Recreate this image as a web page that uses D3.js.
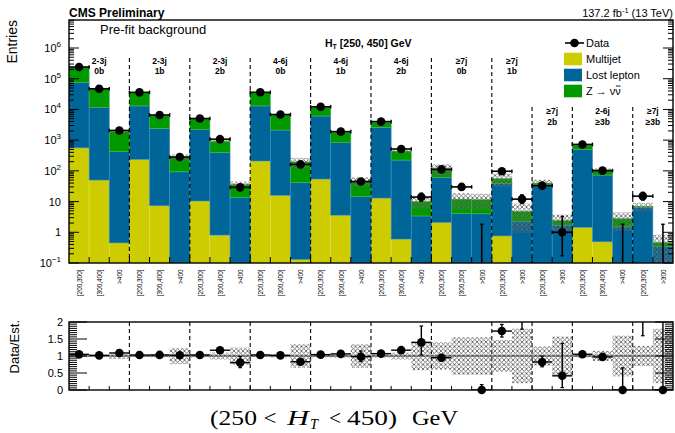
<!DOCTYPE html>
<html>
<head>
<meta charset="utf-8">
<script src="https://cdn.jsdelivr.net/npm/d3@7"></script>
<style>
  body { margin: 0; background: #fff; }
  svg { display: block; }
  text { font-family: "Liberation Sans", Arial, Helvetica, sans-serif; fill: #000; }
</style>
</head>
<body>
<svg id="chart" width="675" height="433"></svg>
<script>
// ---- Search-region bins (H_T 250-450 GeV), binned in MT2 within each (Nj, Nb) group ----
const binLabels = [
  "[200,300]", "[300,400]", ">400",
  "[200,300]", "[300,400]", ">400",
  "[200,300]", "[300,400]", ">400",
  "[200,300]", "[300,400]", ">400",
  "[200,300]", "[300,400]", ">400",
  "[200,300]", "[300,400]", ">400",
  "[200,300]", "[300,500]", ">500",
  "[200,300]", ">300",
  "[200,300]", ">300",
  "[200,300]", "[300,400]", ">400",
  "[200,300]", ">300"
];
const groupJets  = ["2-3j", "2-3j", "2-3j", "4-6j", "4-6j", "4-6j", "≥7j", "≥7j", "≥7j", "2-6j", "≥7j"];
const groupBtags = ["0b", "1b", "2b", "0b", "1b", "2b", "0b", "1b", "2b", "≥3b", "≥3b"];
const groupSizes = [3, 3, 3, 3, 3, 3, 3, 2, 2, 3, 2];
const groupLowRow = [false, false, false, false, false, false, false, false, true, true, true];

// Pre-fit background estimates (stacked: multijet, lost lepton, Z -> nu nu)
const multijet = [560, 50, 0.45, 236, 7.3, 0, 10.4, 0.81, 0, 209, 16, 0.13, 54, 3.6, 0,
                  13, 0.6, 0, 2.1, 0, 0, 0.76, 0, 0, 0, 1.45, 0.49, 0, 0, 0];
const lostLepton = [75400, 11650, 420, 12760, 2390, 93, 2240, 399, 13.7, 12790, 2114, 40.9, 6046, 826, 14.4,
                    2587, 224, 3.4, 59.9, 4.1, 4.0, 38.2, 2.2, 35, 1.7, 498, 72.5, 1.5, 6.4, 0.35];
const zinv = [154000, 34300, 1480, 22000, 4000, 182, 2650, 520, 22.3, 22000, 4570, 154, 5600, 950, 31.6,
              1150, 215, 6.6, 56, 7.9, 7.5, 17, 2.6, 5, 0.7, 190, 32, 1.3, 0.6, 0.11];
// Relative uncertainty on the total estimate
const relUnc = [0.03, 0.03, 0.09, 0.03, 0.04, 0.24, 0.04, 0.10, 0.25, 0.03, 0.05, 0.35, 0.04, 0.05, 0.35,
                0.05, 0.10, 0.42, 0.40, 0.55, 0.55, 0.47, 0.80, 0.28, 0.57, 0.04, 0.15, 0.60, 0.30, 0.80];
// Observed event counts
const observed = [241000, 46900, 2070, 36000, 6600, 281, 5050, 1076, 29, 36100, 6830, 162, 12170, 1890, 45,
                  4010, 515, 14, 112, 30, 0, 97, 12, 33, 1, 725, 102, 0, 15, 0];

const yExponents = [-1, 0, 1, 2, 3, 4, 5, 6];
const ratioTicks = [0, 0.5, 1, 1.5, 2];
const legendItems = [
  { key: "data", label: "Data" },
  { key: "mj", label: "Multijet", color: "#cccc00" },
  { key: "ll", label: "Lost lepton", color: "#00669a" },
  { key: "zn", label: "Z → νν", color: "#009900" }
];

// ---- Geometry ----
const L = 69, R = 673, T = 20, B = 263;       // main pad frame
const RT = 322, RB = 390;                      // ratio pad frame
const decade = (B - 48) / 7;
const nb = observed.length;

const svg = d3.select("#chart");
const x = d3.scaleLinear().domain([0, nb]).range([L, R]);
const yMax = Math.pow(10, -1 + (B - T) / decade);
const y = d3.scaleLog().domain([0.1, yMax]).range([B, T]);
const yr = d3.scaleLinear().domain([0, 2]).range([RB, RT]);

// Poisson (Garwood-like) 68% interval
function poisErr(n) {
  const lo = n > 0 ? n * Math.pow(1 - 1 / (9 * n) - 1 / (3 * Math.sqrt(n)), 3) : 0;
  const m = n + 1;
  const hi = m * Math.pow(1 - 1 / (9 * m) + 1 / (3 * Math.sqrt(m)), 3);
  return [lo, hi];
}

const defs = svg.append("defs");
const pat = defs.append("pattern").attr("id", "hatch").attr("patternUnits", "userSpaceOnUse")
  .attr("width", 4.5).attr("height", 4.5);
pat.append("path").attr("d", "M0,0 L4.5,4.5 M4.5,0 L0,4.5 M-1,3.5 L1,5.5 M3.5,-1 L5.5,1")
  .attr("stroke", "#6a6a6a").attr("stroke-width", 0.9).attr("fill", "none");
defs.append("clipPath").attr("id", "clipMain").append("rect")
  .attr("x", L).attr("y", T).attr("width", R - L).attr("height", B - T);
defs.append("clipPath").attr("id", "clipRatio").append("rect")
  .attr("x", L).attr("y", RT).attr("width", R - L).attr("height", RB - RT);

// ---- Stacked backgrounds ----
const table = observed.map((d, i) => ({ mj: multijet[i], ll: lostLepton[i], zn: zinv[i] }));
const stack = d3.stack().keys(["mj", "ll", "zn"])(table);
const colors = { mj: "#cccc00", ll: "#00669a", zn: "#009900" };
const edge = { mj: "#dede55", ll: "#3d8fbf", zn: "#4cb84c" };

const gMain = svg.append("g").attr("clip-path", "url(#clipMain)");
stack.forEach(layer => {
  gMain.append("g").selectAll("rect")
    .data(layer.map((s, i) => ({ i, lo: s[0], hi: s[1] })).filter(d => d.hi - d.lo > 0 && d.hi > 0.1))
    .join("rect")
    .attr("x", d => x(d.i))
    .attr("width", d => x(d.i + 1) - x(d.i))
    .attr("y", d => y(d.hi))
    .attr("height", d => (d.lo > 0.1 ? y(d.lo) : B) - y(d.hi))
    .attr("fill", colors[layer.key])
    .attr("stroke", edge[layer.key]).attr("stroke-width", 0.6);
});

const totals = table.map(d => d.mj + d.ll + d.zn);

// Uncertainty band on the total
gMain.append("g").selectAll("rect")
  .data(totals.map((t, i) => ({ i, lo: Math.max(t * (1 - relUnc[i]), 0.1), hi: t * (1 + relUnc[i]) })))
  .join("rect")
  .attr("x", d => x(d.i)).attr("width", d => x(d.i + 1) - x(d.i))
  .attr("y", d => y(d.hi)).attr("height", d => y(d.lo) - y(d.hi))
  .attr("fill", "url(#hatch)");

// ---- Group separators and labels ----
const bounds = [];
let acc = 0;
groupSizes.forEach((n, g) => { bounds.push({ g, start: acc, end: acc + n }); acc += n; });

const sepTop = { high: 58, low: 107 };
bounds.slice(0, -1).forEach((b, k) => {
  const next = bounds[k + 1];
  const top = groupLowRow[next.g] ? sepTop.low : sepTop.high;
  svg.append("line").attr("x1", x(b.end)).attr("x2", x(b.end)).attr("y1", top).attr("y2", B)
    .attr("stroke", "#000").attr("stroke-width", 1.1).attr("stroke-dasharray", "4,3");
  svg.append("line").attr("x1", x(b.end)).attr("x2", x(b.end)).attr("y1", RT).attr("y2", RB)
    .attr("stroke", "#000").attr("stroke-width", 1.1).attr("stroke-dasharray", "4,3");
});

bounds.forEach(b => {
  const cx = x((b.start + b.end) / 2);
  const y1 = groupLowRow[b.g] ? 114 : 63.5;
  svg.append("text").attr("x", cx).attr("y", y1).attr("text-anchor", "middle")
    .attr("font-size", 8.5).attr("font-weight", "bold").text(groupJets[b.g]);
  svg.append("text").attr("x", cx).attr("y", y1 + 10.5).attr("text-anchor", "middle")
    .attr("font-size", 8.5).attr("font-weight", "bold").text(groupBtags[b.g]);
});

// ---- Data points (main pad) ----
const gData = svg.append("g").attr("clip-path", "url(#clipMain)");
observed.forEach((n, i) => {
  const cx = x(i + 0.5);
  const [lo, hi] = poisErr(n);
  const yHi = y(hi), yLo = lo > 0.1 ? y(lo) : B + 5;
  gData.append("line").attr("x1", cx).attr("x2", cx).attr("y1", yHi).attr("y2", yLo)
    .attr("stroke", "#000").attr("stroke-width", 1.6);
  gData.append("line").attr("x1", cx - 1.8).attr("x2", cx + 1.8).attr("y1", yHi).attr("y2", yHi)
    .attr("stroke", "#000").attr("stroke-width", 1.4);
  if (lo > 0.1) gData.append("line").attr("x1", cx - 1.8).attr("x2", cx + 1.8).attr("y1", yLo).attr("y2", yLo)
    .attr("stroke", "#000").attr("stroke-width", 1.4);
  if (n > 0) {
    const cy = y(n);
    gData.append("line").attr("x1", x(i)).attr("x2", x(i + 1)).attr("y1", cy).attr("y2", cy)
      .attr("stroke", "#000").attr("stroke-width", 1.6);
    [x(i), x(i + 1)].forEach(ex => gData.append("line").attr("x1", ex).attr("x2", ex)
      .attr("y1", cy - 1.8).attr("y2", cy + 1.8).attr("stroke", "#000").attr("stroke-width", 1.4));
    gData.append("circle").attr("cx", cx).attr("cy", cy).attr("r", 4.3).attr("fill", "#000");
  }
});

// ---- Main pad axes ----
svg.append("rect").attr("x", L).attr("y", T).attr("width", R - L).attr("height", B - T)
  .attr("fill", "none").attr("stroke", "#000").attr("stroke-width", 1.4);

const minor = [];
for (let e = -1; e <= 6; e++) for (let m = 2; m <= 9; m++) { const v = m * Math.pow(10, e); if (v < yMax) minor.push(v); }
const gAx = svg.append("g").attr("stroke", "#000").attr("stroke-width", 1);
yExponents.forEach(e => {
  const v = Math.pow(10, e), yy = y(v);
  gAx.append("line").attr("x1", L).attr("x2", L + 10).attr("y1", yy).attr("y2", yy);
  gAx.append("line").attr("x1", R - 10).attr("x2", R).attr("y1", yy).attr("y2", yy);
});
minor.forEach(v => {
  const yy = y(v);
  gAx.append("line").attr("x1", L).attr("x2", L + 5).attr("y1", yy).attr("y2", yy);
  gAx.append("line").attr("x1", R - 5).attr("x2", R).attr("y1", yy).attr("y2", yy);
});
d3.range(1, nb).forEach(k => {
  gAx.append("line").attr("x1", x(k)).attr("x2", x(k)).attr("y1", B).attr("y2", B - 6);
  gAx.append("line").attr("x1", x(k)).attr("x2", x(k)).attr("y1", RB).attr("y2", RB - 4);
});

yExponents.forEach(e => {
  const yy = y(Math.pow(10, e));
  const t = svg.append("text").attr("x", 61).attr("y", yy + 4).attr("text-anchor", "end").attr("font-size", 11);
  if (e === 0) t.text("1");
  else if (e === 1) t.text("10");
  else {
    t.append("tspan").text("10");
    t.append("tspan").attr("dy", -5).attr("font-size", 8).text(e < 0 ? "−" + (-e) : String(e));
  }
});

svg.append("text").attr("transform", "translate(17,20) rotate(-90)").attr("text-anchor", "end")
  .attr("font-size", 14).text("Entries");

// Bin labels along the bottom of the main pad
binLabels.forEach((lab, i) => {
  svg.append("text").attr("transform", `translate(${x(i + 0.5) + 2.8},269.5) rotate(-90) scale(0.8,1)`)
    .attr("text-anchor", "end").attr("font-size", 8).text(lab);
});

// ---- Headers ----
svg.append("text").attr("x", 69).attr("y", 16.5).attr("font-size", 12).attr("font-weight", "bold").text("CMS Preliminary");
const lumi = svg.append("text").attr("x", 673).attr("y", 16.5).attr("text-anchor", "end").attr("font-size", 11);
lumi.append("tspan").text("137.2 fb");
lumi.append("tspan").attr("dy", -4).attr("font-size", 7.5).text("-1");
lumi.append("tspan").attr("dy", 4).text(" (13 TeV)");

svg.append("text").attr("x", 100).attr("y", 34).attr("font-size", 13).text("Pre-fit background");

const ht = svg.append("text").attr("x", 325).attr("y", 46.5).attr("font-size", 10.5).attr("font-weight", "bold");
ht.append("tspan").text("H");
ht.append("tspan").attr("dy", 2.5).attr("font-size", 7).text("T");
ht.append("tspan").attr("dy", -2.5).text(" [250, 450] GeV");

// ---- Legend ----
const lg = svg.append("g");
legendItems.forEach((it, k) => {
  const cy = 43 + k * 16;
  if (it.key === "data") {
    lg.append("line").attr("x1", 565).attr("x2", 584).attr("y1", cy).attr("y2", cy).attr("stroke", "#000").attr("stroke-width", 1.6);
    lg.append("circle").attr("cx", 574.5).attr("cy", cy).attr("r", 4.3).attr("fill", "#000");
  } else {
    lg.append("rect").attr("x", 564).attr("y", cy - 6.3).attr("width", 18).attr("height", 12.6).attr("fill", it.color);
  }
  const t = lg.append("text").attr("x", 586).attr("y", cy + 4).attr("font-size", 11).text(it.label);
  if (it.key === "zn") {
    // bar over the second neutrino
    const node = t.node();
    const n = it.label.length;
    const x0 = 586 + node.getSubStringLength(0, n - 1);
    const w = node.getSubStringLength(n - 1, 1);
    lg.append("line").attr("x1", x0 + 0.5).attr("x2", x0 + w - 0.3).attr("y1", cy - 5).attr("y2", cy - 5)
      .attr("stroke", "#000").attr("stroke-width", 0.9);
  }
});

// ---- Ratio pad ----
const gR = svg.append("g").attr("clip-path", "url(#clipRatio)");
gR.append("g").selectAll("rect")
  .data(relUnc.map((u, i) => ({ i, u })))
  .join("rect")
  .attr("x", d => x(d.i)).attr("width", d => x(d.i + 1) - x(d.i))
  .attr("y", d => yr(1 + d.u)).attr("height", d => yr(1 - d.u) - yr(1 + d.u))
  .attr("fill", "url(#hatch)");
gR.append("line").attr("x1", L).attr("x2", R).attr("y1", yr(1)).attr("y2", yr(1))
  .attr("stroke", "#333").attr("stroke-width", 1.2);

const gRP = svg.append("g");
observed.forEach((n, i) => {
  const est = totals[i];
  const r = n / est;
  const [lo, hi] = poisErr(n);
  const cx = x(i + 0.5);
  const rHi = hi / est, rLo = lo / est;
  gR.append("line").attr("x1", cx).attr("x2", cx).attr("y1", yr(rHi)).attr("y2", yr(rLo))
    .attr("stroke", "#000").attr("stroke-width", 1.4);
  gR.append("line").attr("x1", cx - 1.8).attr("x2", cx + 1.8).attr("y1", yr(rHi)).attr("y2", yr(rHi))
    .attr("stroke", "#000").attr("stroke-width", 1.2);
  if (lo > 0) gR.append("line").attr("x1", cx - 1.8).attr("x2", cx + 1.8).attr("y1", yr(rLo)).attr("y2", yr(rLo))
    .attr("stroke", "#000").attr("stroke-width", 1.2);
  if (r <= 2) {
    gR.append("line").attr("x1", x(i)).attr("x2", x(i + 1)).attr("y1", yr(r)).attr("y2", yr(r))
      .attr("stroke", "#000").attr("stroke-width", 1.4);
    gRP.append("circle").attr("cx", cx).attr("cy", yr(r)).attr("r", 4.3).attr("fill", "#000");
  }
});

svg.append("rect").attr("x", L).attr("y", RT).attr("width", R - L).attr("height", RB - RT)
  .attr("fill", "none").attr("stroke", "#000").attr("stroke-width", 1.4);

const gRA = svg.append("g").attr("stroke", "#000").attr("stroke-width", 1);
d3.range(0, 2.0001, 0.0625).forEach(v => {
  const major = Math.abs(v * 2 - Math.round(v * 2)) < 1e-6;
  const len = major ? 18 : 8;
  gRA.append("line").attr("x1", L).attr("x2", L + len).attr("y1", yr(v)).attr("y2", yr(v));
  gRA.append("line").attr("x1", R - len).attr("x2", R).attr("y1", yr(v)).attr("y2", yr(v));
});
ratioTicks.forEach(v => {
  svg.append("text").attr("x", 63).attr("y", yr(v) + 4).attr("text-anchor", "end").attr("font-size", 11).text(String(v));
});
svg.append("text").attr("transform", "translate(19,320) rotate(-90)").attr("text-anchor", "end")
  .attr("font-size", 13).text("Data/Est.");

// ---- x-axis title, set piece by piece ----
const serif = "'Liberation Serif', 'Times New Roman', serif";
const titleParts = [
  { s: "(250", x0: 210, w: 47 },
  { s: "<", x0: 263.5, w: 13 },
  { s: "H", x0: 287, w: 22, it: true },
  { s: "T", x0: 310, w: 8, it: true, sub: true },
  { s: "<", x0: 329, w: 12 },
  { s: "450)", x0: 347, w: 50 },
  { s: "GeV", x0: 412, w: 46 }
];
titleParts.forEach(p => {
  svg.append("text").attr("x", p.x0).attr("y", p.sub ? 429 : 425)
    .style("font-family", serif).attr("font-size", p.sub ? 14 : 21)
    .attr("font-style", p.it ? "italic" : null)
    .attr("textLength", p.w).attr("lengthAdjust", "spacingAndGlyphs")
    .text(p.s);
});
</script>
</body>
</html>
